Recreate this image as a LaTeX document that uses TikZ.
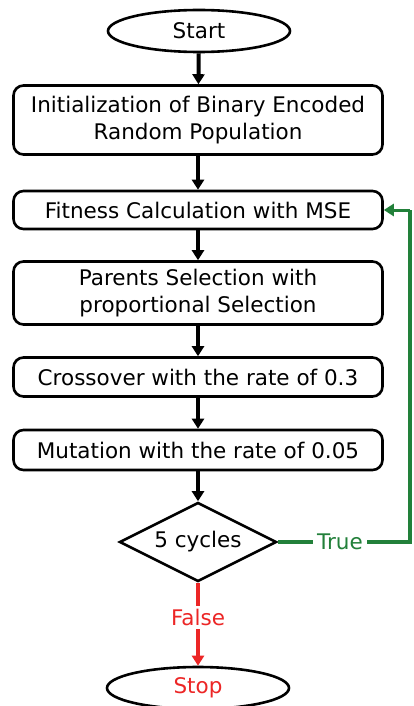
\documentclass[tikz,border=0pt]{standalone}
\usepackage{fontspec}
\setmainfont{DejaVu Sans}
\usepackage{tikz}
\usetikzlibrary{arrows.meta,shapes.geometric}
\definecolor{loopgreen}{RGB}{34,128,58}
\definecolor{stopred}{RGB}{236,38,38}

\begin{document}
\begin{tikzpicture}[x=1pt,y=-1pt]
        \tikzset{terminal/.style = {shape=ellipse,draw,line width=2.6pt,minimum width=182pt,minimum height=42pt,inner sep=1pt,font=\fontsize{21.5}{25}\selectfont}};
        \tikzset{process/.style = {shape=rectangle,draw,rounded corners=10pt,line width=2.6pt,minimum width=369pt,align=center,font=\fontsize{21.5}{27}\selectfont}};
        \tikzset{decision/.style = {shape=diamond,aspect=2,draw,line width=2.6pt,minimum width=157pt,minimum height=79pt,inner sep=0pt,font=\fontsize{21.5}{25}\selectfont}};
        \tikzset{edge/.style = {line width=4pt,-{Triangle[width=12pt,length=10pt]}}};
        \useasboundingbox (0,0) rectangle (413,706);
        \node[terminal] (start) at (199,31) {Start};
        \node[process,minimum height=69pt] (init) at (198,120) {Initialization of Binary Encoded\\Random Population};
        \node[process,minimum height=38pt] (fitness) at (198,210) {Fitness Calculation with MSE};
        \node[process,minimum height=63pt] (parents) at (198,293) {Parents Selection with\\proportional Selection};
        \node[process,minimum height=39pt] (crossover) at (198,377) {Crossover with the rate of 0.3};
        \node[process,minimum height=40pt] (mutation) at (198,450) {Mutation with the rate of 0.05};
        \node[decision] (cycles) at (198,542) {5 cycles};
        \node[terminal,text=stopred] (stop) at (198,688) {Stop};
        \coordinate (loopa) at (410,542);
        \coordinate (loopb) at (410,210);
        \draw[edge] (start)  to (init);
        \draw[edge] (init)  to (fitness);
        \draw[edge] (fitness)  to (parents);
        \draw[edge] (parents)  to (crossover);
        \draw[edge] (crossover)  to (mutation);
        \draw[edge] (mutation)  to (cycles);
        \draw[edge,loopgreen,-] (cycles.east) -- node[pos=0.47,fill=white,text=loopgreen,font=\fontsize{21.5}{25}\selectfont,inner sep=4pt] {True} (loopa) -- (loopb);
        \draw[edge,loopgreen,line width=3pt] (loopb) -- (fitness.east);
        \draw[edge,stopred] (cycles.south) -- node[pos=0.42,fill=white,text=stopred,font=\fontsize{21.5}{25}\selectfont,inner sep=3pt] {False} (stop.north);
    \end{tikzpicture}
\end{document}
